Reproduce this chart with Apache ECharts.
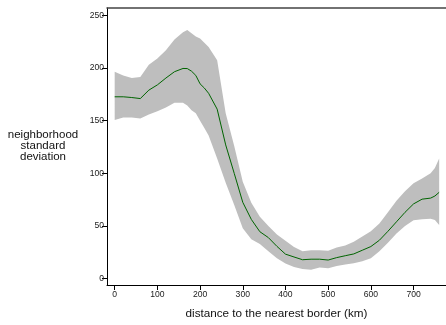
<!DOCTYPE html>
<html>
<head>
<meta charset="utf-8">
<script src="https://cdn.jsdelivr.net/npm/echarts@6/dist/echarts.min.js"></script>
<style>html,body{margin:0;padding:0;background:#fff}#c{width:446px;height:325px}</style>
</head>
<body>
<div id="c"></div>
<script>
// distance to nearest border (km)
const distance = [0, 20, 40, 60, 80, 100, 120, 140, 160, 170, 180, 190, 200, 210, 220, 240, 260, 280, 300, 320, 340, 360, 380, 400, 420, 440, 460, 480, 500, 520, 540, 560, 580, 600, 620, 640, 660, 680, 700, 720, 740, 750, 760];
const meanSd   = [172.7, 172.7, 172, 171, 179, 184, 190.5, 196.5, 199.6, 199.5, 197, 193, 185, 181, 176, 161, 127, 100, 72.5, 56.3, 44.6, 39, 30.7, 23.3, 20.6, 18, 18.5, 18.5, 17.7, 20, 21.8, 23.5, 27, 30.5, 36.5, 45, 54, 63, 71, 75.5, 76.5, 78.5, 82];
const upperSd  = [196.4, 193, 190.5, 191.6, 203, 209, 217, 227, 234, 236, 233, 230, 228, 224, 220, 207.5, 157, 126, 92, 72, 58.8, 50, 42, 36, 30, 26, 27, 27, 26.6, 29.5, 31.5, 35, 40, 45, 52.5, 63, 74, 83, 90.5, 95, 100, 105, 114];
const lowerSd  = [150.6, 153, 153, 152, 156, 159, 162.5, 167, 167, 164.5, 160, 157, 150, 143, 136, 114, 91, 70, 48, 37.5, 33, 26, 19.5, 14.5, 11.2, 9.3, 8.5, 10.5, 9.9, 12, 13.5, 14.6, 16.5, 19.5, 26, 34, 43, 50, 55.5, 56.5, 57, 55.7, 51];
const xTicks = [0, 100, 200, 300, 400, 500, 600, 700];
const yTicks = [0, 50, 100, 150, 200, 250];

const meanData = distance.map((d, i) => [d, meanSd[i]]);

const chart = echarts.init(document.getElementById('c'), null, {renderer: 'canvas'});
const font = 'Liberation Sans, Arial, sans-serif';
chart.setOption({
  animation: false,
  backgroundColor: '#fff',
  grid: {left: 107, top: 8, right: -3, bottom: 40, show: false},
  xAxis: [{
    type: 'value', min: -18, max: 776,
    splitLine: {show: false},
    axisLine: {show: true, onZero: false, lineStyle: {color: '#000', width: 1}},
    axisTick: {show: true, length: 5, customValues: xTicks, lineStyle: {color: '#000'}},
    axisLabel: {customValues: xTicks, fontSize: 8.6, color: '#222', fontFamily: font, margin: 5},
    name: 'distance to the nearest border (km)', nameLocation: 'middle', nameGap: 23,
    nameTextStyle: {fontSize: 11.7, color: '#111', fontFamily: font}
  }, {
    type: 'value', position: 'top', min: -18, max: 776,
    splitLine: {show: false},
    axisLine: {show: true, onZero: false, lineStyle: {color: '#444', width: 1.5}},
    axisTick: {show: false}, axisLabel: {show: false}
  }],
  yAxis: {
    type: 'value', min: -6, max: 257,
    splitLine: {show: false},
    axisLine: {show: true, onZero: false, lineStyle: {color: '#000', width: 1}},
    axisTick: {show: true, length: 5, customValues: yTicks, lineStyle: {color: '#000'}},
    axisLabel: {customValues: yTicks, fontSize: 8.6, color: '#222', fontFamily: font, margin: 3}
  },
  graphic: [{
    type: 'text', x: 43, y: 146,
    style: {text: 'neighborhood\nstandard\ndeviation', align: 'center', verticalAlign: 'middle',
      font: '11.5px ' + font, fill: '#111', lineHeight: 11}
  }],
  series: [
    {
      type: 'custom', data: [0], silent: true, z: 1,
      renderItem: function (params, api) {
        const pts = [];
        for (let i = 0; i < distance.length; i++) pts.push(api.coord([distance[i], upperSd[i]]));
        for (let i = distance.length - 1; i >= 0; i--) pts.push(api.coord([distance[i], lowerSd[i]]));
        return {type: 'polygon', shape: {points: pts}, style: {fill: '#bebebe', stroke: null}};
      }
    },
    {type: 'line', data: meanData, symbol: 'none', z: 3, lineStyle: {color: '#006400', width: 1}}
  ]
});
</script>
</body>
</html>
